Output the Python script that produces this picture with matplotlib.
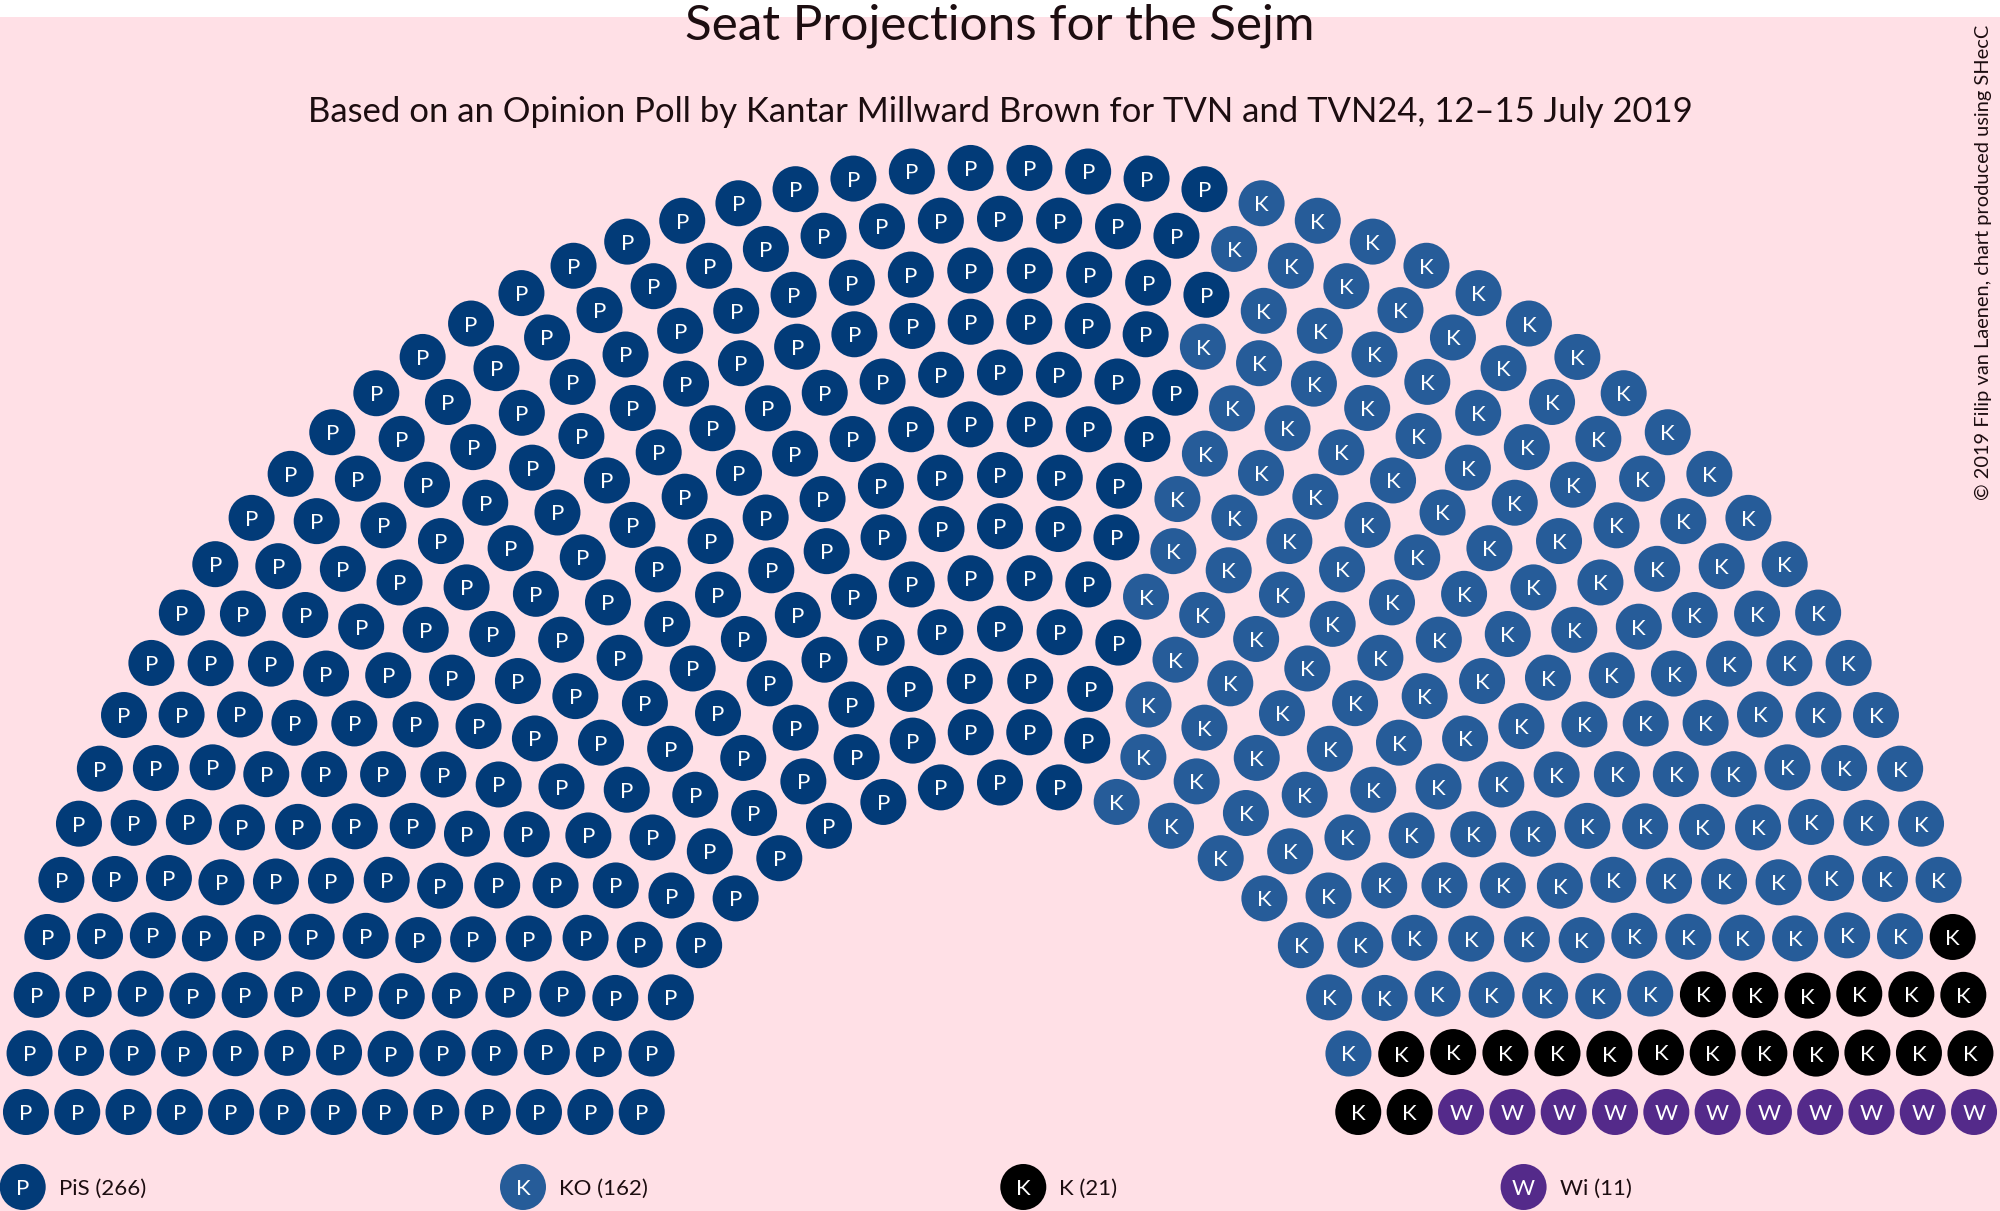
import numpy as np
import matplotlib
matplotlib.use("Agg")
import matplotlib.pyplot as plt
from matplotlib.patches import Circle, Rectangle

# ---- data ----
parties = ["PiS", "KO", "K", "Wi"]
seat_counts = [266, 162, 21, 11]
seat_letters = ["P", "K", "K", "W"]
party_colors = ["#023B78", "#265C99", "#000000", "#542A8A"]
row_counts = [19, 22, 24, 27, 30, 33, 35, 38, 41, 44, 46, 49, 52]

title = "Seat Projections for the Sejm"
subtitle = "Based on an Opinion Poll by Kantar Millward Brown for TVN and TVN24, 12–15 July 2019"
credit = "© 2019 Filip van Laenen, chart produced using SHecC"

# ---- style ----
bg = "#FFE0E6"
txt = "#1c0d10"
font = ["Lato", "DejaVu Sans"]
plt.rcParams["font.family"] = font

W, H = 2000, 1211
fig = plt.figure(figsize=(20, 12.11), dpi=100)
fig.patch.set_facecolor("white")
ax = fig.add_axes([0, 0, 1, 1])
ax.set_xlim(0, W)
ax.set_ylim(H, 0)
ax.axis("off")
ax.add_patch(Rectangle((0, 17), W, H - 17, facecolor=bg, edgecolor="none", zorder=0))

# ---- hemicycle geometry ----
cx, cy = 1000.0, 1142.0
r_in, r_out = 359.5, 974.5
base_off = 30.0
seat_r = 23.0
nrows = len(row_counts)

seats = []
for i, n in enumerate(row_counts):
    r = r_in + (r_out - r_in) * i / (nrows - 1)
    a0 = np.arcsin(base_off / r)
    for a in np.linspace(np.pi - a0, a0, n):
        seats.append((a, r))

seats.sort(key=lambda s: (-round(s[0], 9), s[1]))

owner = []
for p, c in enumerate(seat_counts):
    owner += [p] * c

for (a, r), p in zip(seats, owner):
    x = cx + r * np.cos(a)
    y = cy - r * np.sin(a)
    ax.add_patch(Circle((x, y), seat_r, facecolor=party_colors[p], edgecolor="none", zorder=2))
    ax.text(x, y + 8, seat_letters[p], color="white", fontsize=16, ha="center",
            va="baseline", zorder=3)

# ---- titles ----
ax.text(1000, 39, title, fontsize=35.6, color=txt, ha="center", va="baseline", zorder=4)
ax.text(1000, 122, subtitle, fontsize=24.9, color=txt, ha="center", va="baseline", zorder=4)
ax.text(1983, 25, credit, fontsize=14.4, color=txt, ha="center", va="top", rotation=90, zorder=4)

# ---- legend ----
for k, (name, cnt) in enumerate(zip(parties, seat_counts)):
    lx = 22.7 + 500.3 * k
    ly = 1187
    ax.add_patch(Circle((lx, ly), seat_r, facecolor=party_colors[k], edgecolor="none", zorder=2))
    ax.text(lx, ly + 8, seat_letters[k], color="white", fontsize=16, ha="center", va="baseline", zorder=3)
    ax.text(lx + 36, ly + 8, f"{name} ({cnt})", color=txt, fontsize=16, ha="left", va="baseline", zorder=3)

fig.savefig("out.png", dpi=100, facecolor=fig.get_facecolor())
